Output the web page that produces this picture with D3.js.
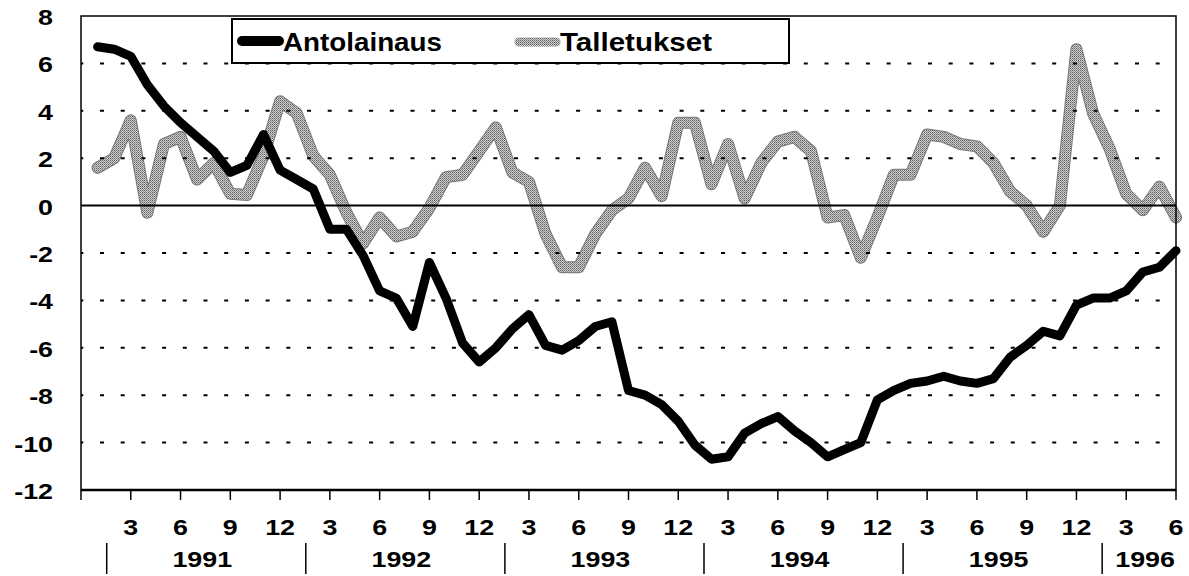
<!DOCTYPE html>
<html>
<head>
<meta charset="utf-8">
<script src="https://cdn.jsdelivr.net/npm/d3@7"></script>
<style>
  body { margin: 0; background: #fff; }
  text { font-family: "Liberation Sans", Arial, sans-serif; font-weight: bold; fill: #000; }
</style>
</head>
<body>
<div id="container"></div>
<script>
// monthly change, Jan 1991 .. Jun 1996
const years = ["1991", "1992", "1993", "1994", "1995", "1996"]
const monthTicks = ["3", "6", "9", "12"]
const yTicks = [8, 6, 4, 2, 0, -2, -4, -6, -8, -10, -12]
const seriesNames = ["Antolainaus", "Talletukset"]

const antolainaus = [6.7, 6.6, 6.3, 5.1, 4.2, 3.5, 2.9, 2.3, 1.4, 1.7, 3.0, 1.5,
    1.1, 0.7, -1.0, -1.0, -2.1, -3.6, -3.9, -5.1, -2.4, -3.9, -5.8, -6.6,
    -6.0, -5.2, -4.6, -5.9, -6.1, -5.7, -5.1, -4.9, -7.8, -8.0, -8.4, -9.1,
    -10.1, -10.7, -10.6, -9.6, -9.2, -8.9, -9.5, -10.0, -10.6, -10.3, -10.0, -8.2,
    -7.8, -7.5, -7.4, -7.2, -7.4, -7.5, -7.3, -6.4, -5.9, -5.3, -5.5, -4.2,
    -3.9, -3.9, -3.6, -2.8, -2.6, -1.9]

const talletukset = [1.6, 2.0, 3.6, -0.3, 2.6, 2.9, 1.1, 1.8, 0.5, 0.45, 2.1, 4.4,
    3.9, 2.1, 1.3, -0.3, -1.6, -0.5, -1.3, -1.1, -0.1, 1.2, 1.3, 2.3,
    3.3, 1.4, 1.0, -1.2, -2.6, -2.6, -1.2, -0.2, 0.3, 1.6, 0.4, 3.5,
    3.5, 0.9, 2.6, 0.3, 1.8, 2.7, 2.9, 2.3, -0.5, -0.4, -2.2, -0.5,
    1.3, 1.3, 3.0, 2.9, 2.6, 2.5, 1.8, 0.6, 0.0, -1.1, 0.0, 6.6,
    3.9, 2.4, 0.5, -0.2, 0.8, -0.5]

const W = 1189, H = 576
const plotLeft = 81, plotRight = 1176, plotTop = 16, plotBottom = 490
const n = antolainaus.length

const x = d3.scaleLinear().domain([0, n]).range([plotLeft, plotRight])
const y = d3.scaleLinear().domain([-12, 8]).range([plotBottom, plotTop])

const svg = d3.select("div#container")
    .append("svg")
    .attr("width", W)
    .attr("height", H)

// dithered grey, like the scanned print
const pat = svg.append("defs")
    .append("pattern")
    .attr("id", "dither")
    .attr("patternUnits", "userSpaceOnUse")
    .attr("width", 2)
    .attr("height", 2)
pat.append("rect").attr("width", 2).attr("height", 2).attr("fill", "#cfcfcf")
pat.append("rect").attr("width", 1).attr("height", 1).attr("fill", "#5e5e5e")
pat.append("rect").attr("x", 1).attr("y", 1).attr("width", 1).attr("height", 1).attr("fill", "#8c8c8c")

const line = d3.line()
    .x((d, i) => x(i + 1))
    .y(d => y(d))

// grey series (drawn first)
svg.append("path")
    .datum(talletukset)
    .attr("d", line)
    .attr("fill", "none")
    .attr("stroke", "#777")
    .attr("stroke-width", 12)
    .attr("stroke-linejoin", "round")
    .attr("stroke-linecap", "round")
svg.append("path")
    .datum(talletukset)
    .attr("d", line)
    .attr("fill", "none")
    .attr("stroke", "url(#dither)")
    .attr("stroke-width", 10)
    .attr("stroke-linejoin", "round")
    .attr("stroke-linecap", "round")

// dashed grid
svg.append("g")
    .selectAll("line")
    .data(yTicks.filter(v => v !== 0 && v !== 8 && v !== -12))
    .enter()
    .append("line")
    .attr("x1", plotLeft)
    .attr("x2", plotRight)
    .attr("y1", d => y(d))
    .attr("y2", d => y(d))
    .attr("stroke", "#000")
    .attr("stroke-width", 2)
    .attr("stroke-dasharray", "4 16.7")
    .attr("stroke-dashoffset", -19)

// zero line
svg.append("line")
    .attr("x1", plotLeft).attr("x2", plotRight)
    .attr("y1", y(0)).attr("y2", y(0))
    .attr("stroke", "#000")
    .attr("stroke-width", 2)

// black series
svg.append("path")
    .datum(antolainaus)
    .attr("d", line)
    .attr("fill", "none")
    .attr("stroke", "#000")
    .attr("stroke-width", 9)
    .attr("stroke-linejoin", "round")
    .attr("stroke-linecap", "round")

// frame
svg.append("rect")
    .attr("x", plotLeft)
    .attr("y", plotTop)
    .attr("width", plotRight - plotLeft)
    .attr("height", plotBottom - plotTop)
    .attr("fill", "none")
    .attr("stroke", "#000")
    .attr("stroke-width", 1.5)
svg.append("line")
    .attr("x1", plotLeft).attr("x2", plotRight)
    .attr("y1", plotBottom).attr("y2", plotBottom)
    .attr("stroke", "#000")
    .attr("stroke-width", 2.5)

// y labels
svg.append("g")
    .selectAll("g")
    .data(yTicks)
    .enter()
    .append("g")
    .attr("transform", d => `translate(53,${y(d) + 1})`)
    .append("text")
    .attr("transform", "scale(1.22,1)")
    .attr("text-anchor", "end")
    .attr("dy", "0.36em")
    .style("font-size", "22px")
    .text(d => d)

// x ticks every third month
const tickIdx = d3.range(0, n + 1, 3)
svg.append("g")
    .selectAll("line")
    .data(tickIdx)
    .enter()
    .append("line")
    .attr("x1", d => x(d)).attr("x2", d => x(d))
    .attr("y1", plotBottom).attr("y2", plotBottom + 10)
    .attr("stroke", "#000")
    .attr("stroke-width", 1.5)

svg.append("g")
    .selectAll("g")
    .data(tickIdx.filter(d => d > 0))
    .enter()
    .append("g")
    .attr("transform", d => `translate(${x(d)},535)`)
    .append("text")
    .attr("transform", "scale(1.22,1)")
    .attr("text-anchor", "middle")
    .style("font-size", "22px")
    .text(d => monthTicks[((d - 1) % 12 - 2) / 3])

// year separators and labels
const sepPos = years.map((yr, i) => 1.55 + 12 * i)
svg.append("g")
    .selectAll("line")
    .data(sepPos)
    .enter()
    .append("line")
    .attr("x1", d => x(d)).attr("x2", d => x(d))
    .attr("y1", 543).attr("y2", 574)
    .attr("stroke", "#000")
    .attr("stroke-width", 1.5)

svg.append("g")
    .selectAll("g")
    .data(years)
    .enter()
    .append("g")
    .attr("transform", (d, i) => {
        const a = x(sepPos[i])
        const b = i < years.length - 1 ? x(sepPos[i + 1]) : plotRight
        return `translate(${(a + b) / 2 + (i === years.length - 1 ? 6 : -4)},567)`
    })
    .append("text")
    .attr("transform", "scale(1.22,1)")
    .attr("text-anchor", "middle")
    .style("font-size", "22px")
    .text(d => d)

// legend
const lg = svg.append("g")
lg.append("rect")
    .attr("x", 232).attr("y", 19)
    .attr("width", 557).attr("height", 44)
    .attr("fill", "#fff")
    .attr("stroke", "#000")
    .attr("stroke-width", 2)
lg.append("line")
    .attr("x1", 242).attr("x2", 279)
    .attr("y1", 41).attr("y2", 41)
    .attr("stroke", "#000")
    .attr("stroke-width", 10)
    .attr("stroke-linecap", "round")
lg.append("line")
    .attr("x1", 519).attr("x2", 556)
    .attr("y1", 42).attr("y2", 42)
    .attr("stroke", "url(#dither)")
    .attr("stroke-width", 9)
    .attr("stroke-linecap", "round")
lg.selectAll("text.leg")
    .data(seriesNames)
    .enter()
    .append("text")
    .attr("class", "leg")
    .attr("x", (d, i) => i === 0 ? 283 : 560)
    .attr("y", 51)
    .attr("textLength", (d, i) => i === 0 ? 159 : 152)
    .attr("lengthAdjust", "spacingAndGlyphs")
    .style("font-size", "25px")
    .text(d => d)
</script>
</body>
</html>
